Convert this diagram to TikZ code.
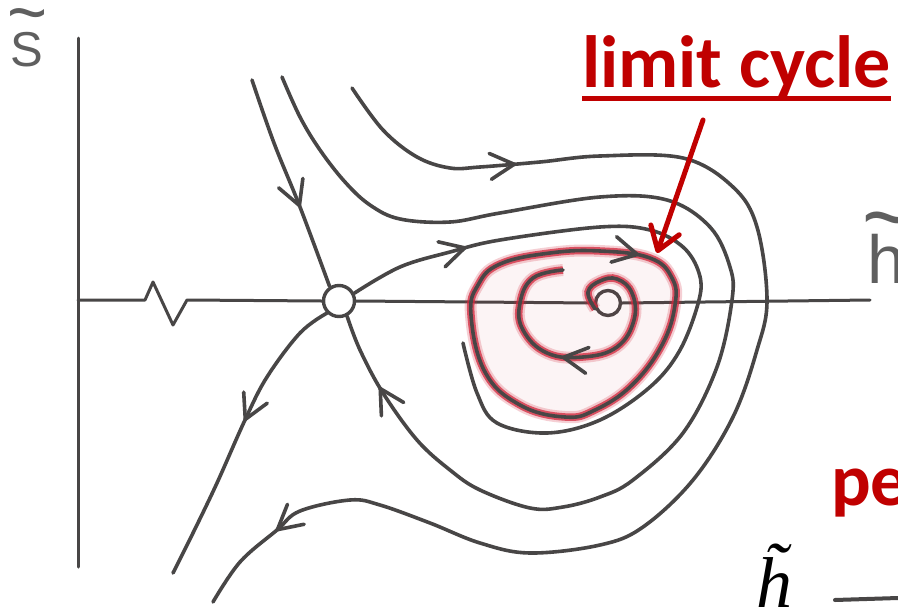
\documentclass[tikz,border=0pt]{standalone}
\usepackage{fontspec}
\usepackage{graphicx}
\usetikzlibrary{arrows.meta,decorations.markings}
\newfontfamily\carl{Carlito}
\newfontfamily\lsans{Liberation Sans}
\newfontfamily\lserif{Liberation Serif}
\definecolor{ink}{RGB}{72,70,70}
\definecolor{hand}{RGB}{95,95,95}
\definecolor{cred}{RGB}{192,0,0}
\definecolor{glowc}{RGB}{210,40,60}
\newcommand{\bigtil}{\scalebox{1.4}[1.5]{\textasciitilde}}
\newcommand{\tightlines}{\lineskiplimit=-100pt\relax}
\begin{document}
\begin{tikzpicture}[x=1pt,y=-1pt,
  traj/.style={draw=ink, color=ink, line width=3.6pt, line cap=round, line join=round},
  axisline/.style={draw=ink, line width=3pt, line cap=round, line join=round},
  arrowat/.style={postaction={decorate, decoration={markings,
      mark=at position #1 with {\arrow{Straight Barb[length=24pt,width=26pt,line width=3.6pt,round]}}}}},
  glowline/.style={preaction={draw=glowc, line width=12pt, opacity=0.22},
                   preaction={draw=glowc, line width=7.5pt, opacity=0.75}},
  pinkfill/.style={preaction={fill=glowc, fill opacity=0.05}},
  fixpt/.style={circle, draw=ink, line width=3.4pt, inner sep=0pt, fill=white},
  handlab/.style={text=hand, inner sep=0pt, anchor=south west, align=left},
  redlab/.style={text=cred, inner sep=0pt, anchor=base west, font=\carl\bfseries\fontsize{74}{80}\selectfont}
]
\useasboundingbox (0,0) rectangle (898,606);
\clip (0,0) rectangle (898,606);
\fill[white] (0,0) rectangle (898,606);

% fixed points
\node[fixpt, minimum size=31pt] (sad) at (339,301) {};
\node[fixpt, minimum size=25pt, fill=none] (foc) at (608,303) {};

% axes
\coordinate (yt) at (78,38);
\coordinate (yb) at (78,567);
\coordinate (xl) at (78,300);
\coordinate (xr) at (870,300);
\draw[axisline] (yt) -- (yb);
\draw[axisline] (xl) -- (145,300) -- (153,282) -- (173,325) -- (187,300) -- (sad.west);
\draw[axisline] (sad.east) -- (foc.west);
\draw[axisline] (foc.east) -- (xr);

% axis labels
\node[handlab, font=\lsans\fontsize{49}{29}\selectfont\tightlines] (slab) at (8,67.5) {\hspace*{-1pt}\bigtil\\\hspace*{2pt}S};
\node[handlab, font=\lsans\fontsize{68}{34}\selectfont\tightlines] (hlab) at (864,283.5) {\hspace*{-2pt}\scalebox{1.25}[1.4]{\textasciitilde}\\\hspace*{3pt}h};

% start points of trajectories
\coordinate (a0) at (252,80);
\coordinate (b0) at (282,77);
\coordinate (c0) at (352,88);
\coordinate (c1) at (213,602);
\coordinate (d1) at (463,343);
\coordinate (e1) at (173,573);
\coordinate (s1) at (563,270);

% limit cycle (red glow)
\draw[traj, pinkfill, glowline, arrowat=172pt]
  plot[smooth cycle, tension=0.7] coordinates {(471,315) (478,285) (500,264) (550,253) (600,251) (650,258) (672,278) (675,305) (662,345) (632,385) (595,410) (565,417) (520,405) (485,372)};

% inner spiral out of the focus
\draw[traj, glowline, arrowat=192pt]
  plot[smooth, tension=0.7] coordinates {(foc.205) (588,292) (600,281) (617,279) (632,293) (634,320) (617,347) (583,357) (547,353) (523,330) (520,303) (533,278) (s1)};

% stable manifold from top
\draw[traj, arrowat=136pt]
  plot[smooth, tension=0.6] coordinates {(a0) (274,143) (300,207) (sad.123)};

% trajectory B: top, around, into saddle from below
\draw[traj, arrowat=-78pt]
  plot[smooth, tension=0.6] coordinates {(b0) (300,117) (320,150) (345,182) (370,205) (400,219) (450,222) (500,213) (600,197) (667,200) (710,227) (730,267) (732,300) (717,367) (683,433) (633,480) (600,497) (563,507) (530,508) (480,490) (450,470) (417,440) (383,393) (360,350) (sad.298)};

% outermost trajectory C
\draw[traj, arrowat=197pt, arrowat=-96pt]
  plot[smooth, tension=0.6] coordinates {(c0) (383,130) (417,157) (450,168) (480,167) (540,162) (600,156) (683,158) (733,187) (757,227) (767,300) (757,350) (733,417) (693,480) (643,527) (600,545) (530,553) (480,543) (430,523) (380,505) (350,500) (300,511) (277,530) (240,562) (c1)};

% unstable manifold to the right, spiralling onto the limit cycle
\draw[traj, arrowat=122pt]
  plot[smooth, tension=0.6] coordinates {(sad.27) (400,267) (450,252) (500,240) (600,227) (650,230) (683,247) (699,273) (699,300) (680,350) (650,387) (600,420) (547,433) (497,423) (477,393) (d1)};

% unstable manifold to the left
\draw[traj, arrowat=138pt]
  plot[smooth, tension=0.6] coordinates {(sad.225) (300,333) (267,377) (245,420) (217,483) (193,533) (e1)};

% annotation
\node[redlab] (lc) at (582,87) {limit cycle};
\draw[cred, line width=5pt] ([yshift=-11pt]lc.base west) -- ([yshift=-11pt]lc.base east);
\coordinate (ra0) at (703,120);
\coordinate (ra1) at (657,253);
\draw[cred, line width=5pt, line cap=round, -{Straight Barb[length=22pt,width=30pt,round]}] (ra0) -- (ra1);

% bottom-right fragments
\node[redlab] (pe) at (831,505) {pe};
\node[inner sep=0pt, anchor=base west, font=\lserif\itshape\fontsize{72}{80}\selectfont] (hb) at (756,607) {\~{h}};
\coordinate (bl0) at (835,600);
\coordinate (bl1) at (898,598);
\draw[ink, line width=4pt, line cap=round] (bl0) -- (bl1);
\end{tikzpicture}
\end{document}
